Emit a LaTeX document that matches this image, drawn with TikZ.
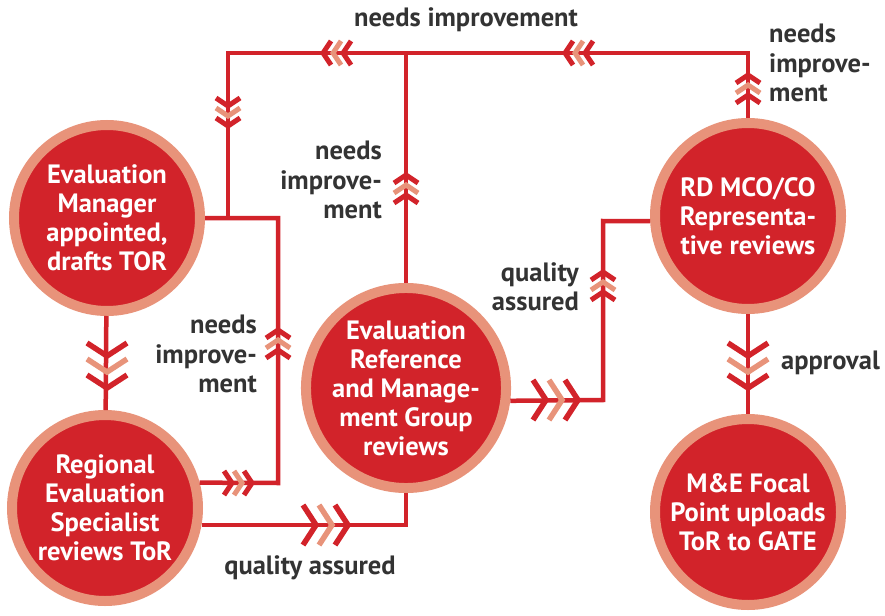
\documentclass[tikz,border=0pt]{standalone}
\usepackage{fontspec}
\setmainfont{PT Sans}
\usetikzlibrary{positioning}
\definecolor{unred}{HTML}{D2232A}
\definecolor{unpink}{HTML}{E8937A}
\definecolor{ungray}{HTML}{333333}

\tikzset{
  smallchev/.pic={
    \foreach \dx/\col in {-10/unred,0/unpink,10/unred}
      \draw[\col,line width=5pt] (\dx-8,12) -- (\dx,0) -- (\dx-8,-12);
  },
  bigchev/.pic={
    \foreach \dx/\col in {-16/unred,0/unpink,16/unred}
      \draw[\col,line width=5.5pt] (\dx-13,20) -- (\dx,0) -- (\dx-13,-20);
  }
}

\begin{document}
\begin{tikzpicture}[x=1pt,y=-1pt]

  \tikzstyle{stage}=[circle,fill=unred,draw=unpink,line width=10pt,
                     minimum size=186pt,inner sep=0pt,text=white,align=center,
                     font=\fontsize{26.5}{29}\selectfont\bfseries]
  \tikzstyle{link}=[unred,line width=4.5pt]
  \tikzstyle{note}=[text=ungray,inner sep=0pt,
                    font=\fontsize{26.5}{29.5}\selectfont\bfseries]

  \useasboundingbox (0,0) rectangle (885,615);

  % stages
  \node [stage] (em)  at (107,218) {Evaluation\\Manager\\appointed,\\drafts TOR};
  \node [stage] (res) at (105,508) {Regional\\Evaluation\\Specialist\\reviews ToR};
  \node [stage] (erg) at (406,388) {Evaluation\\Reference\\and Manage-\\ment Group\\reviews};
  \node [stage] (rd)  at (748,216) {RD MCO/CO\\Representa-\\tive reviews};
  \node [stage] (me)  at (748,512) {M\&E Focal\\Point uploads\\ToR to GATE};

  % corners
  \coordinate (jem)  at (278,218);
  \coordinate (jres) at (278,483);
  \coordinate (jl)   at (228,218);
  \coordinate (jtl)  at (228,53);
  \coordinate (jtm)  at (406,53);
  \coordinate (jtr)  at (748,53);
  \coordinate (jq1)  at (603,400);
  \coordinate (jq2)  at (603,221);

  % connectors
  \draw [link] (em) -- (res);
  \draw [link] (rd) -- (me);
  \draw [link] (em.east) -- (jem) -- (jres) -- (res.15);
  \draw [link] (res.-10) -| (erg.south);
  \draw [link] (erg.north) -- (jtm);
  \draw [link] (rd.north) -- (jtr) -- (jtl) -- (jl);
  \draw [link] (erg.-7) -- (jq1) -- (jq2) -- (rd.183);

  % chevrons
  \pic [rotate=180] at (333,53)  {smallchev};
  \pic [rotate=180] at (575,53)  {smallchev};
  \pic [rotate=-90] at (228,116) {smallchev};
  \pic [rotate=90]  at (406,185) {smallchev};
  \pic [rotate=90]  at (748,85)  {smallchev};
  \pic [rotate=90]  at (278,340) {smallchev};
  \pic [rotate=90]  at (603,282) {smallchev};
  \pic              at (242,483) {smallchev};
  \pic              at (332,525) {bigchev};
  \pic              at (562,400) {bigchev};
  \pic [rotate=-90] at (107,372) {bigchev};
  \pic [rotate=-90] at (748,372) {bigchev};

  % labels
  \node [note] (ltop) at (466,20) {needs improvement};
  \node [note,anchor=west,align=left] (lrt) at (769,63) {needs\\improve-\\ment};
  \node [note,anchor=east,align=right] (lmid) at (382,180) {needs\\improve-\\ment};
  \node [note,anchor=east,align=right] (llft) at (257,354) {needs\\improve-\\ment};
  \node [note,anchor=east,align=right] (lqa) at (579,287) {quality\\assured};
  \node [note] (lqb) at (310,568) {quality assured};
  \node [note,anchor=west] (lapp) at (781,363) {approval};

\end{tikzpicture}
\end{document}
